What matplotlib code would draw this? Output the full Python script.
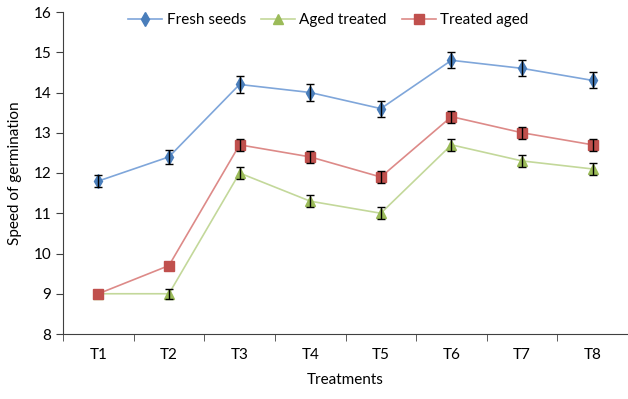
import matplotlib
matplotlib.use("Agg")
import matplotlib.pyplot as plt
from matplotlib.lines import Line2D
import numpy as np

plt.rcParams['font.family'] = ['Lato', 'DejaVu Sans']

categories = ["T1", "T2", "T3", "T4", "T5", "T6", "T7", "T8"]
fresh = [11.8, 12.4, 14.2, 14.0, 13.6, 14.8, 14.6, 14.3]
fresh_err = [0.15, 0.18, 0.2, 0.2, 0.2, 0.2, 0.2, 0.2]
aged_treated = [9.0, 9.0, 12.0, 11.3, 11.0, 12.7, 12.3, 12.1]
aged_treated_err = [0.0, 0.12, 0.15, 0.15, 0.15, 0.15, 0.15, 0.15]
treated_aged = [9.0, 9.7, 12.7, 12.4, 11.9, 13.4, 13.0, 12.7]
treated_aged_err = [0.0, 0.0, 0.15, 0.15, 0.15, 0.15, 0.15, 0.15]

fig = plt.figure(figsize=(6.28, 3.99), dpi=100)
ax = fig.add_axes([63/628, 65/399, 1 - 63/628, (334-12)/399])

x = np.arange(1, len(categories) + 1)
series = [
    (fresh, fresh_err, "Fresh seeds", "#4A7EBB", "#7FA6DA", "d", 7.5),
    (aged_treated, aged_treated_err, "Aged treated", "#9BBB59", "#C3D89A", "^", 7),
    (treated_aged, treated_aged_err, "Treated aged", "#C0504D", "#DD8A88", "s", 7),
]
handles = []
for vals, err, lab, col, lcol, mk, ms in series:
    ax.plot(x, vals, color=lcol, linewidth=1.2, zorder=2)
    ax.plot(x, vals, linestyle='none', marker=mk, markersize=ms, color=col,
            markeredgecolor=col, zorder=3)
    xe = [xi for xi, e in zip(x, err) if e > 0]
    ve = [v for v, e in zip(vals, err) if e > 0]
    ee = [e for e in err if e > 0]
    ax.errorbar(xe, ve, yerr=ee, fmt='none', ecolor="black", elinewidth=1.0,
                capsize=3, capthick=1.0, zorder=4)
    handles.append(Line2D([], [], color=lcol, linewidth=1.2, marker=mk,
                          markersize=ms, markerfacecolor=col, markeredgecolor=col,
                          label=lab))

ax.set_xlim(0.5, 8.5)
ax.set_ylim(8, 16)
ax.set_yticks(range(8, 17))
ax.set_xticks(x)
ax.set_xticklabels(categories)
ax.set_xticks(np.arange(0.5, 8.6, 1), minor=True)
ax.tick_params(axis='x', which='major', length=0, pad=10, labelsize=11)
ax.tick_params(axis='x', which='minor', length=5, direction='out', color='#404040')
ax.tick_params(axis='y', length=5, direction='out', labelsize=11, color='#404040')
for s in ['top', 'right']:
    ax.spines[s].set_visible(False)
for s in ['left', 'bottom']:
    ax.spines[s].set_color('#404040')
ax.set_xlabel("Treatments", fontsize=11, labelpad=8)
ax.set_ylabel("Speed of germination", fontsize=11, labelpad=8)

ax.legend(handles=handles, loc='upper center', bbox_to_anchor=(0.47, 1.04), ncol=3,
          frameon=False, fontsize=11, handlelength=2.2, columnspacing=1.0,
          handletextpad=0.3)

fig.savefig("out.png", dpi=100)
